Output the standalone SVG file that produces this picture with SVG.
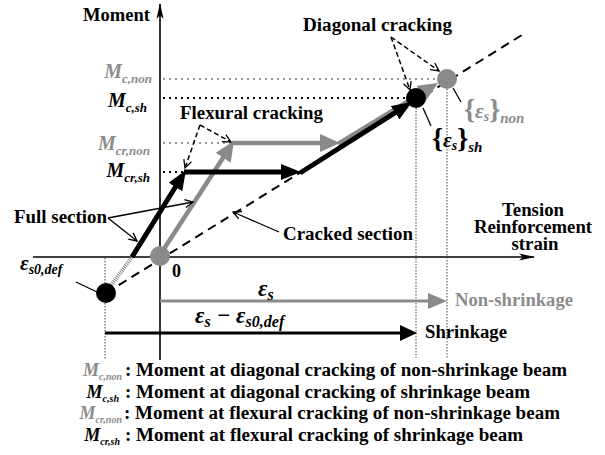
<svg xmlns="http://www.w3.org/2000/svg" width="605" height="455" viewBox="0 0 605 455" font-family="Liberation Serif, Times New Roman, serif">
<style>
text{font-family:"Liberation Serif","Times New Roman",serif}
.t{font-weight:bold;font-size:18px;fill:#000}
.mi{font-weight:bold;font-style:italic;fill:#000}
.g{fill:#8c8c8c}
.axis{stroke:#000;stroke-width:1.6;fill:none}
.dotB{stroke:#000;stroke-width:2;stroke-dasharray:2 4;fill:none}
.dotG{stroke:#999;stroke-width:2;stroke-dasharray:2 4;fill:none}
.vdot{stroke:#444;stroke-width:1;stroke-dasharray:1.5 1.5;fill:none}
.lead{stroke:#000;stroke-width:1.3;fill:none}
.dlead{stroke:#000;stroke-width:1.5;stroke-dasharray:5 3;fill:none}
.blk{stroke:#000;stroke-width:5;fill:none}
.gry{stroke:#8a8a8a;stroke-width:4.5;fill:none}
</style>
<defs>
<marker id="axh" markerUnits="userSpaceOnUse" markerWidth="16" markerHeight="8" refX="15" refY="4" orient="auto"><path d="M0,0.5 L16,4 L0,7.5 L4,4 z" fill="#000"/></marker>
<marker id="open" markerUnits="userSpaceOnUse" markerWidth="10" markerHeight="10" refX="9" refY="5" orient="auto"><path d="M1,1 L9,5 L1,9" fill="none" stroke="#000" stroke-width="1.3"/></marker>
<marker id="hB" markerUnits="userSpaceOnUse" markerWidth="20" markerHeight="16" refX="2" refY="8" orient="auto"><path d="M0,0 L20,8 L0,16 z" fill="#000"/></marker>
<marker id="hG" markerUnits="userSpaceOnUse" markerWidth="20" markerHeight="18" refX="2" refY="9" orient="auto"><path d="M0,0 L20,9 L0,18 z" fill="#8a8a8a"/></marker>
</defs>

<g id="axes">
<line class="axis" x1="160" y1="360" x2="160" y2="4" marker-end="url(#axh)"/>
<line class="axis" x1="33" y1="257" x2="534" y2="257" marker-end="url(#axh)"/>
<text class="t" x="83" y="21" textLength="67" lengthAdjust="spacingAndGlyphs">Moment</text>
<text class="t" x="533" y="216" text-anchor="middle" font-size="15" textLength="62" lengthAdjust="spacingAndGlyphs">Tension</text>
<text class="t" x="533" y="233" text-anchor="middle" font-size="15" textLength="118" lengthAdjust="spacingAndGlyphs">Reinforcement</text>
<text class="t" x="535" y="250" text-anchor="middle" font-size="15" textLength="47" lengthAdjust="spacingAndGlyphs">strain</text>
<text class="t" x="172" y="277">0</text>
</g>

<g id="connectors">
<line class="dotG" x1="163" y1="79" x2="437" y2="79"/>
<line class="dotB" x1="163" y1="98" x2="406" y2="98"/>
<line class="dotG" x1="163" y1="143" x2="230" y2="143"/>
<line class="dotB" x1="163" y1="172" x2="183" y2="172"/>
<line class="vdot" x1="105" y1="258" x2="105" y2="360" stroke="#888"/>
<line class="vdot" x1="416" y1="108" x2="416" y2="358"/>
<line class="vdot" x1="447" y1="89" x2="447" y2="358"/>
<line x1="106" y1="293" x2="522" y2="35" stroke="#000" stroke-width="2" stroke-dasharray="9 6"/>
<line x1="132" y1="257" x2="107" y2="291" stroke="#888" stroke-width="4" stroke-dasharray="1 1"/>
<line class="gry" x1="160" y1="255" x2="224.2" y2="156.1" marker-end="url(#hG)"/>
<line class="gry" x1="232" y1="143" x2="322" y2="143" marker-end="url(#hG)"/>
<line class="gry" x1="338" y1="144" x2="422.6" y2="92.4" marker-end="url(#hG)"/>
<line class="blk" x1="132" y1="257" x2="176.5" y2="185.3" marker-end="url(#hB)"/>
<line class="blk" x1="184" y1="172" x2="283" y2="172" stroke-width="4.5" marker-end="url(#hB)"/>
<line class="blk" x1="300" y1="173" x2="396.8" y2="111.6" marker-end="url(#hB)"/>
<line x1="160" y1="301" x2="430" y2="301" stroke="#8a8a8a" stroke-width="3"/>
<path d="M428,293 L447,301 L428,309 z" fill="#8a8a8a"/>
<line x1="105" y1="333" x2="402" y2="333" stroke="#000" stroke-width="3"/>
<path d="M400,325 L417,333 L400,341 z" fill="#000"/>
<line class="lead" x1="108" y1="218" x2="193" y2="202" marker-end="url(#open)"/>
<line class="lead" x1="108" y1="218" x2="137" y2="241" marker-end="url(#open)"/>
<line class="lead" x1="279" y1="232" x2="233" y2="212" marker-end="url(#open)"/>
<line class="dlead" x1="200" y1="125" x2="231" y2="142" marker-end="url(#open)"/>
<line class="dlead" x1="200" y1="125" x2="185" y2="168" marker-end="url(#open)"/>
<line class="dlead" x1="391" y1="37" x2="410" y2="90" marker-end="url(#open)"/>
<line class="dlead" x1="391" y1="37" x2="439" y2="71" marker-end="url(#open)"/>
<line class="lead" x1="76" y1="282" x2="97" y2="292"/>
<line class="lead" x1="423" y1="108" x2="431" y2="126"/>
<line class="lead" x1="453" y1="88" x2="461" y2="102"/>
</g>

<g id="points">
<circle cx="160" cy="256" r="10" fill="#8a8a8a"/>
<circle cx="106" cy="293" r="10" fill="#000"/>
<circle cx="447" cy="79" r="10" fill="#8a8a8a"/>
<circle cx="416" cy="98" r="10" fill="#000"/>
</g>

<g id="labels">
<text class="t" x="303" y="31" textLength="149" lengthAdjust="spacingAndGlyphs">Diagonal cracking</text>
<text class="t" x="180" y="119" textLength="143" lengthAdjust="spacingAndGlyphs">Flexural cracking</text>
<text class="t" x="14" y="223" textLength="93" lengthAdjust="spacingAndGlyphs">Full section</text>
<text class="t" x="283" y="240" textLength="130" lengthAdjust="spacingAndGlyphs">Cracked section</text>
<text class="t g" x="455" y="306" textLength="118" lengthAdjust="spacingAndGlyphs">Non-shrinkage</text>
<text class="t" x="425" y="338" textLength="82" lengthAdjust="spacingAndGlyphs">Shrinkage</text>

<text class="mi g" x="152" y="78" text-anchor="end" font-size="20">M<tspan font-size="13" dy="5">c,non</tspan></text>
<text class="mi" x="147" y="107" text-anchor="end" font-size="20">M<tspan font-size="13" dy="5">c,sh</tspan></text>
<text class="mi g" x="150" y="150" text-anchor="end" font-size="20">M<tspan font-size="13" dy="5">cr,non</tspan></text>
<text class="mi" x="150" y="177" text-anchor="end" font-size="20">M<tspan font-size="13" dy="5">cr,sh</tspan></text>

<text class="mi" x="20" y="270" font-size="21">ε<tspan font-size="14" dy="4">s0,def</tspan></text>
<text class="mi" x="258" y="296" font-size="23">ε<tspan font-size="16" dy="4">s</tspan></text>
<text class="mi" x="195" y="323" font-size="23">ε<tspan font-size="16" dy="4">s</tspan><tspan dy="-4"> − ε</tspan><tspan font-size="16" dy="4">s0,def</tspan></text>
<text class="mi" x="432" y="147" font-size="21"><tspan font-style="normal" font-size="28">{</tspan>ε<tspan font-size="14" dy="3">s</tspan><tspan font-style="normal" font-size="28" dy="-3">}</tspan><tspan font-size="15" dy="5">sh</tspan></text>
<text class="mi g" x="464" y="118" font-size="21" font-weight="normal"><tspan font-style="normal" font-size="28">{</tspan>ε<tspan font-size="14" dy="3">s</tspan><tspan font-style="normal" font-size="28" dy="-3">}</tspan><tspan font-size="15" font-weight="bold" dy="5">non</tspan></text>
</g>

<g id="legend">
<text class="mi g" x="122" y="376" text-anchor="end" font-size="18">M<tspan font-size="10" dy="4">c,non</tspan></text>
<text class="t" x="125" y="376" textLength="442" lengthAdjust="spacingAndGlyphs">: Moment at diagonal cracking of non-shrinkage beam</text>
<text class="mi" x="119" y="398" text-anchor="end" font-size="18">M<tspan font-size="10" dy="4">c,sh</tspan></text>
<text class="t" x="125" y="398" textLength="405" lengthAdjust="spacingAndGlyphs">: Moment at diagonal cracking of shrinkage beam</text>
<text class="mi g" x="122" y="419" text-anchor="end" font-size="18">M<tspan font-size="10" dy="4">cr,non</tspan></text>
<text class="t" x="124" y="419" textLength="436" lengthAdjust="spacingAndGlyphs">: Moment at flexural cracking of non-shrinkage beam</text>
<text class="mi" x="120" y="441" text-anchor="end" font-size="18">M<tspan font-size="10" dy="4">cr,sh</tspan></text>
<text class="t" x="125" y="441" textLength="398" lengthAdjust="spacingAndGlyphs">: Moment at flexural cracking of shrinkage beam</text>
</g>
</svg>
